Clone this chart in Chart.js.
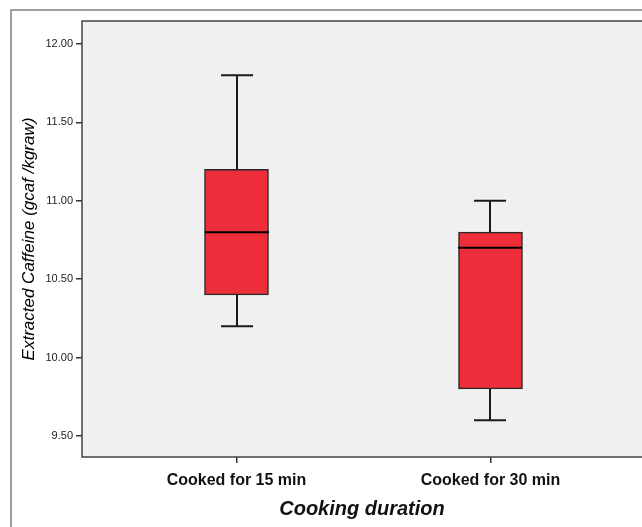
<!DOCTYPE html>
<html>
<head>
<meta charset="utf-8">
<script src="https://cdn.jsdelivr.net/npm/chart.js@4/dist/chart.umd.min.js"></script>
<style>
  html, body { margin: 0; padding: 0; background: #fff; }
  canvas { display: block; }
</style>
</head>
<body>
<canvas id="chart" width="642" height="527"></canvas>
<script>
// box plot summary per group
var categories = ["Cooked for 15 min", "Cooked for 30 min"];
var whiskerLow = [10.2, 9.6];
var quartile1 = [10.4, 9.8];
var medians = [10.8, 10.7];
var quartile3 = [11.2, 10.8];
var whiskerHigh = [11.8, 11.0];
var yTicks = [9.5, 10.0, 10.5, 11.0, 11.5, 12.0];

var FONT = "Arial, 'Liberation Sans', sans-serif";

// gray plot panel and outer frame
var panelPlugin = {
  id: "panel",
  beforeDraw: function(chart) {
    var ctx = chart.ctx, a = chart.chartArea;
    ctx.save();
    ctx.fillStyle = "#fff";
    ctx.fillRect(0, 0, chart.width, chart.height);
    ctx.strokeStyle = "#808080";
    ctx.lineWidth = 1.5;
    ctx.strokeRect(11, 10, 1000, 1000);
    ctx.fillStyle = "#f0f0f0";
    ctx.fillRect(a.left, a.top, a.right - a.left + 10, a.bottom - a.top);
    ctx.restore();
  },
  afterDraw: function(chart) {
    var ctx = chart.ctx, a = chart.chartArea;
    ctx.save();
    ctx.strokeStyle = "#444";
    ctx.lineWidth = 1.5;
    ctx.beginPath();
    ctx.moveTo(a.right + 10, a.top);
    ctx.lineTo(a.left, a.top);
    ctx.lineTo(a.left, a.bottom);
    ctx.lineTo(a.right + 10, a.bottom);
    ctx.stroke();
    ctx.restore();
  }
};

// whiskers, caps and median lines
var whiskerPlugin = {
  id: "whiskers",
  afterDatasetsDraw: function(chart) {
    var ctx = chart.ctx;
    var xs = chart.scales.x, ys = chart.scales.y;
    var capHalf = 16, boxHalf = 32;
    ctx.save();
    for (var i = 0; i < categories.length; i++) {
      var x = Math.round(xs.getPixelForValue(i + 1));
      var lo = ys.getPixelForValue(whiskerLow[i]);
      var q1 = ys.getPixelForValue(quartile1[i]);
      var q3 = ys.getPixelForValue(quartile3[i]);
      var hi = ys.getPixelForValue(whiskerHigh[i]);
      var md = ys.getPixelForValue(medians[i]);

      ctx.strokeStyle = "#1a1a1a";
      ctx.lineWidth = 2;
      ctx.beginPath();
      ctx.moveTo(x, hi); ctx.lineTo(x, q3);
      ctx.moveTo(x, q1); ctx.lineTo(x, lo);
      ctx.moveTo(x - capHalf, hi); ctx.lineTo(x + capHalf, hi);
      ctx.moveTo(x - capHalf, lo); ctx.lineTo(x + capHalf, lo);
      ctx.stroke();

      ctx.strokeStyle = "#000";
      ctx.lineWidth = 2;
      ctx.beginPath();
      ctx.moveTo(x - boxHalf, md); ctx.lineTo(x + boxHalf, md);
      ctx.stroke();
    }
    ctx.restore();
  }
};

var boxes = categories.map(function(c, i) {
  return { x: i + 1, y: [quartile1[i], quartile3[i]] };
});

new Chart(document.getElementById("chart").getContext("2d"), {
  type: "bar",
  data: {
    datasets: [{
      data: boxes,
      backgroundColor: "#ee2f3b",
      borderColor: "#2a2a2a",
      borderWidth: 1.5,
      borderSkipped: false,
      barThickness: 64
    }]
  },
  options: {
    responsive: false,
    animation: false,
    layout: { padding: { top: 21, right: 0, left: 0, bottom: 0 } },
    plugins: { legend: { display: false }, tooltip: { enabled: false } },
    scales: {
      x: {
        type: "linear",
        offset: false,
        min: 0.3917,
        max: 2.5965,
        afterBuildTicks: function(scale) {
          scale.ticks = categories.map(function(c, i) { return { value: i + 1 }; });
        },
        afterFit: function(scale) { scale.height = 70; },
        ticks: {
          callback: function(v, i) { return categories[i]; },
          color: "#111",
          font: { family: FONT, size: 16, weight: "bold" },
          padding: 8,
          maxRotation: 0
        },
        grid: { offset: false, drawOnChartArea: false, drawTicks: true, tickLength: 6, color: "#333", lineWidth: 1.5 },
        border: { display: false },
        title: {
          display: true,
          text: "Cooking duration",
          color: "#111",
          font: { family: FONT, size: 20, weight: "bold", style: "italic" },
          padding: { top: 0, bottom: 6 }
        }
      },
      y: {
        min: 9.366,
        max: 12.1467,
        afterBuildTicks: function(scale) {
          scale.ticks = yTicks.map(function(v) { return { value: v }; });
        },
        afterFit: function(scale) { scale.width = 82; },
        ticks: {
          callback: function(v) { return v.toFixed(2); },
          color: "#222",
          font: { family: FONT, size: 11 },
          padding: 3
        },
        grid: { drawOnChartArea: false, drawTicks: true, tickLength: 6, color: "#333", lineWidth: 1.5 },
        border: { display: false },
        title: {
          display: true,
          text: "Extracted Caffeine (gcaf /kgraw)",
          color: "#000",
          font: { family: FONT, size: 17, style: "italic" },
          padding: { top: 19, bottom: 0 }
        }
      }
    }
  },
  plugins: [panelPlugin, whiskerPlugin]
});
</script>
</body>
</html>
